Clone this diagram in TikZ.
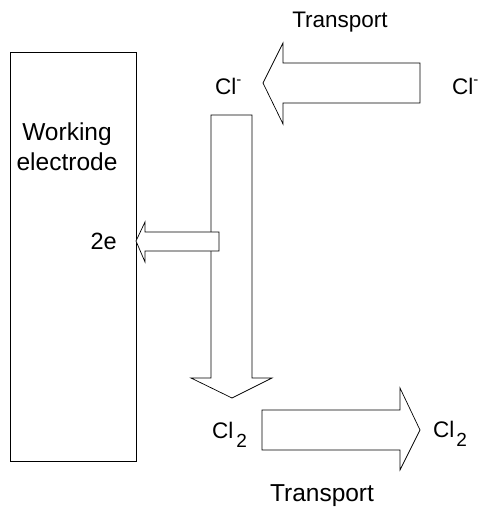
\documentclass[tikz,border=0pt]{standalone}
\usepackage{fontspec}
\setmainfont{Liberation Sans}
\begin{document}
\begin{tikzpicture}[x=1pt,y=-1pt,
  box/.style={draw=black,line width=1pt},
  bigarrow/.style={draw=black,fill=white,line width=0.7pt,line join=miter},
  lbl/.style={inner sep=0pt,font=\fontsize{22.5}{30}\selectfont},
  lblbig/.style={inner sep=0pt,font=\fontsize{24.5}{30}\selectfont}]
\useasboundingbox (0,0) rectangle (483,508);
% electrode
\node[box,minimum width=126pt,minimum height=409pt,inner sep=0pt,anchor=north west] (el) at (10,52) {};
\node[lblbig,align=center,anchor=base] (wel) at (67,170) {Working\\electrode};
% top transport arrow (right to left)
\draw[bigarrow] (263,83) -- (283,43) -- (283,63) -- (420,63) -- (420,103) -- (283,103) -- (283,124) -- cycle;
% vertical arrow
\draw[bigarrow] (211,115) -- (252,115) -- (252,378) -- (272,378) -- (232,398) -- (191,378) -- (211,378) -- cycle;
% electron arrow
\draw[bigarrow] (136,241) -- (145,222) -- (145,232) -- (219,232) -- (219,251) -- (145,251) -- (145,262) -- cycle;
% bottom transport arrow
\draw[bigarrow] (262,410) -- (400,410) -- (400,388) -- (420,430) -- (400,470) -- (400,450) -- (262,450) -- cycle;
% labels
\node[lbl,anchor=base] (t1) at (340,28) {Transport};
\node[lblbig,anchor=base] (t2) at (322,501) {Transport};
\node[lbl,anchor=base west] (cl1) at (215,95) {Cl\raisebox{10.5pt}{\fontsize{15}{15}\selectfont -}};
\node[lbl,anchor=base west] (cl2) at (452,95) {Cl\raisebox{10.5pt}{\fontsize{15}{15}\selectfont -}};
\node[lbl,anchor=base east,font=\fontsize{23.5}{30}\selectfont] (e2) at (117,249) {2e};
\node[lbl,anchor=base west] (cla) at (212,438) {Cl\hspace{3pt}\raisebox{-9pt}{\fontsize{19}{19}\selectfont 2}};
\node[lbl,anchor=base west] (clb) at (433,437) {Cl\hspace{2pt}\raisebox{-9pt}{\fontsize{19}{19}\selectfont 2}};
\end{tikzpicture}
\end{document}
